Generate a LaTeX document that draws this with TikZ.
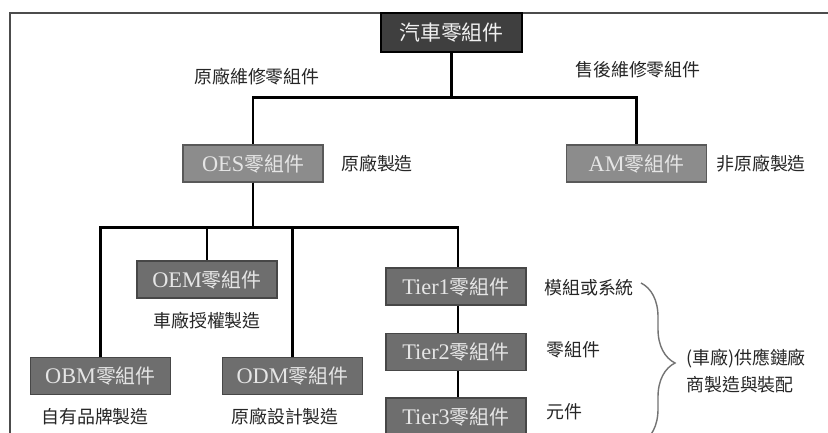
\documentclass[tikz,border=0pt]{standalone}
\usepackage{fontspec}
\setmainfont{Liberation Serif}[Scale=1.12]
\newfontfamily\cjk{Noto Sans CJK TC}
\usetikzlibrary{positioning, decorations.pathreplacing}
\newcommand{\zh}[1]{{\cjk #1}}
\definecolor{topgray}{HTML}{3F3F3F}
\definecolor{midgray}{HTML}{8C8C8C}
\definecolor{lowgray}{HTML}{6E6E6E}
\tikzset{
  topbox/.style={
    draw=black,
    fill=topgray,
    line width=1.2pt,
    text=white!94!black,
    font=\fontsize{21}{23}\selectfont,
    minimum width=141bp,
    minimum height=39bp,
    inner sep=2pt,
  },
  partbox/.style={
    draw=black!65,
    fill=midgray,
    line width=1.2pt,
    text=white!90!black,
    font=\fontsize{20}{22}\selectfont,
    minimum width=140bp,
    minimum height=37bp,
    inner sep=2pt,
  },
  subbox/.style={
    partbox,
    draw=black!72,
    fill=lowgray,
  },
  link/.style={line width=2.4bp, draw=black},
  note/.style={font=\cjk\fontsize{18}{27}\selectfont, text=black!85, inner sep=1pt},
  bracefx/.style={decorate, decoration={brace, amplitude=34bp, aspect=0.5},
    draw=black!55, line width=1.4pt},
}
\begin{document}
\begin{tikzpicture}[x=1bp, y=-1bp]
\clip (0,0) rectangle (828,433);
\fill[white] (0,0) rectangle (828,433);

% --- outer frame ---
\draw[draw=black!70, line width=1.6bp] (10,13) rectangle (860,470);

% --- root ---
\node[topbox] (car) at (451.5,32.5) {\zh{汽車零組件}};

% --- first level ---
\node[partbox] (oes) at (253,163.5) {OES\zh{零組件}};
\node[partbox] (am) at (636.5,163.5) {AM\zh{零組件}};

\node[note] (oeslink) at (257,77) {原廠維修零組件};
\node[note] (amlink) at (638,70) {售後維修零組件};
\node[note, anchor=west] (oesnote) at (340,164) {原廠製造};
\node[note, anchor=west] (amnote) at (715,164) {非原廠製造};

% --- second level ---
\node[subbox] (obm) at (100.5,376) {OBM\zh{零組件}};
\node[subbox] (oem) at (207,279.5) {OEM\zh{零組件}};
\node[subbox] (odm) at (292.5,376) {ODM\zh{零組件}};
\node[subbox] (tier1) at (456,286.5) {Tier1\zh{零組件}};
\node[subbox] (tier2) at (456,352) {Tier2\zh{零組件}};
\node[subbox] (tier3) at (456,416.5) {Tier3\zh{零組件}};

\node[note, below=12bp of oem] (oemnote) {車廠授權製造};
\node[note] (obmnote) at (95,417) {自有品牌製造};
\node[note] (odmnote) at (285,417) {原廠設計製造};
\node[note, anchor=west] (t1note) at (543,288) {模組或系統};
\node[note, anchor=west] (t2note) at (545,350) {零組件};
\node[note, anchor=west] (t3note) at (545,412) {元件};

% --- brace ---
\coordinate (bracetop) at (641,283);
\coordinate (bracebot) at (641,443);
\draw[bracefx] (bracetop) -- (bracebot);
\node[note, anchor=west, align=left] (supply) at (685,371) {(車廠)供應鏈廠\\商製造與裝配};

% --- links ---
\draw[link] (car.south) -- ++(0,45) -| (oes.north);
\draw[link] (car.south) -- ++(0,45) -| (am.north);

\draw[link] (oes.south) -- ++(0,45) -| (obm.north);
\draw[link] (oes.south) -- ++(0,45) -| (oem.north);
\draw[link] (oes.south) -- ++(0,45) -| (odm.north);
\draw[link] (oes.south) -- ++(0,45) -| ([xshift=2bp]tier1.north);

\draw[link] ([xshift=2bp]tier1.south) -- ([xshift=2bp]tier2.north);
\draw[link] ([xshift=2bp]tier2.south) -- ([xshift=2bp]tier3.north);

\end{tikzpicture}
\end{document}
